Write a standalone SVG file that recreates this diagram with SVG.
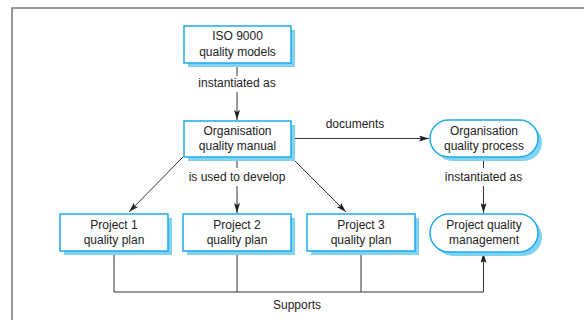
<svg xmlns="http://www.w3.org/2000/svg" width="584" height="320" viewBox="0 0 584 320">
<style>
.box{fill:#fff;stroke:#1ea9ec;stroke-width:1.5}
.sh{fill:#7fd3f5}
.t{font-family:"Liberation Sans",Arial,sans-serif;font-size:12px;fill:#222;text-anchor:middle}
.ln{stroke:#333;stroke-width:1;fill:none}
</style>
<defs>
<marker id="ah" viewBox="0 0 10 6" refX="10" refY="3" markerWidth="10" markerHeight="6" markerUnits="userSpaceOnUse" orient="auto">
<path d="M0,0 L10,3 L0,6 L2,3 z" fill="#222"/>
</marker>
</defs>
<rect x="12" y="8" width="620" height="400" fill="#fff" stroke="#777" stroke-width="1.5"/>
<g id="connectors">
<line class="ln" x1="237" y1="63" x2="237" y2="76"/>
<line class="ln" x1="237" y1="92" x2="237" y2="120" marker-end="url(#ah)"/>
<text class="t" x="237" y="87">instantiated as</text>
<line class="ln" x1="291" y1="138.5" x2="429" y2="138.5" marker-end="url(#ah)"/>
<text class="t" x="355" y="128">documents</text>
<line class="ln" x1="183" y1="157" x2="129" y2="212" marker-end="url(#ah)"/>
<line class="ln" x1="237" y1="157" x2="237" y2="168"/>
<line class="ln" x1="237" y1="186" x2="237" y2="213" marker-end="url(#ah)"/>
<text class="t" x="237" y="181">is used to develop</text>
<line class="ln" x1="291" y1="157" x2="346" y2="212" marker-end="url(#ah)"/>
<line class="ln" x1="483.5" y1="157" x2="483.5" y2="168"/>
<line class="ln" x1="483.5" y1="186" x2="483.5" y2="213" marker-end="url(#ah)"/>
<text class="t" x="483.5" y="181">instantiated as</text>
<polyline class="ln" points="114,252 114,292 483.5,292 483.5,253" marker-end="url(#ah)"/>
<line class="ln" x1="237" y1="252" x2="237" y2="292"/>
<line class="ln" x1="361" y1="252" x2="361" y2="292"/>
<text class="t" x="297" y="309">Supports</text>
</g>
<g id="iso">
<rect class="sh" x="188" y="30" width="107" height="37"/>
<rect class="box" x="184" y="26" width="107" height="37"/>
<text class="t" x="237.5" y="40">ISO 9000</text>
<text class="t" x="237.5" y="56">quality models</text>
</g>
<g id="manual">
<rect class="sh" x="188" y="125" width="107" height="36"/>
<rect class="box" x="184" y="121" width="107" height="36"/>
<text class="t" x="237.5" y="135">Organisation</text>
<text class="t" x="237.5" y="150">quality manual</text>
</g>
<g id="process">
<rect class="sh" x="434" y="124" width="108" height="37" rx="18.5"/>
<rect class="box" x="430" y="120" width="108" height="37" rx="18.5"/>
<text class="t" x="484" y="134.5">Organisation</text>
<text class="t" x="484" y="149.5">quality process</text>
</g>
<g id="plan1">
<rect class="sh" x="64" y="218" width="108" height="37"/>
<rect class="box" x="60" y="214" width="108" height="37"/>
<text class="t" x="114" y="229">Project 1</text>
<text class="t" x="114" y="244">quality plan</text>
</g>
<g id="plan2">
<rect class="sh" x="187" y="218" width="108" height="37"/>
<rect class="box" x="183" y="214" width="108" height="37"/>
<text class="t" x="237" y="229">Project 2</text>
<text class="t" x="237" y="244">quality plan</text>
</g>
<g id="plan3">
<rect class="sh" x="311" y="218" width="108" height="37"/>
<rect class="box" x="307" y="214" width="108" height="37"/>
<text class="t" x="361" y="229">Project 3</text>
<text class="t" x="361" y="244">quality plan</text>
</g>
<g id="pqm">
<rect class="sh" x="434" y="218" width="108" height="38" rx="19"/>
<rect class="box" x="430" y="214" width="108" height="38" rx="19"/>
<text class="t" x="484" y="229">Project quality</text>
<text class="t" x="484" y="244">management</text>
</g>
</svg>
